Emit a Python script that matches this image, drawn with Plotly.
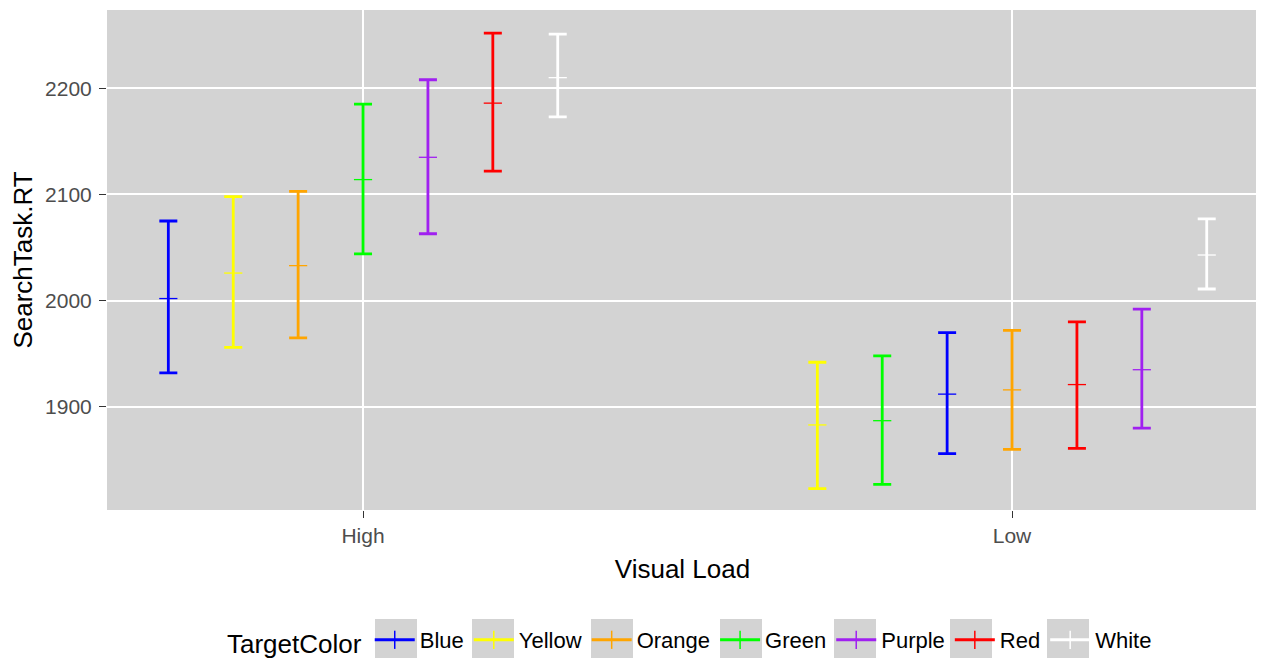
import plotly.graph_objects as go

loads = ["High", "Low"]
color_names = ["Blue", "Yellow", "Orange", "Green", "Purple", "Red", "White"]
line_colors = ["#0000FF", "#FFFF00", "#FFA500", "#00FF00", "#A020F0", "#FF0000", "#FFFFFF"]

high_mean = [2002, 2026, 2033, 2114, 2135, 2186, 2210]
high_upper = [2075, 2098, 2103, 2185, 2208, 2252, 2251]
high_lower = [1932, 1956, 1965, 2044, 2063, 2122, 2173]

low_mean = [1912, 1883, 1916, 1887, 1935, 1921, 2043]
low_upper = [1970, 1942, 1972, 1948, 1992, 1980, 2077]
low_lower = [1856, 1823, 1860, 1827, 1880, 1861, 2011]

y_ticks = [1900, 2000, 2100, 2200]

# dodge: within each load, bars ordered by mean, total dodge width 0.7
def dodge_offsets(means, width=0.7):
    n = len(means)
    order = sorted(range(n), key=lambda i: means[i])
    off = [0.0] * n
    for rank, i in enumerate(order):
        off[i] = (rank - (n - 1) / 2) * width / n
    return off

off_high = dodge_offsets(high_mean)
off_low = dodge_offsets(low_mean)

fig = go.Figure()
for i, name in enumerate(color_names):
    c = line_colors[i]
    means = [high_mean[i], low_mean[i]]
    ups = [high_upper[i] - high_mean[i], low_upper[i] - low_mean[i]]
    los = [high_mean[i] - high_lower[i], low_mean[i] - low_lower[i]]
    fig.add_trace(go.Scatter(
        x=[1 + off_high[i], 2 + off_low[i]], y=means, mode="markers",
        marker=dict(symbol="line-ew", size=13, color=c, line=dict(color=c, width=1.3)),
        error_y=dict(type="data", array=ups, arrayminus=los, symmetric=False,
                     color=c, thickness=2.8, width=9),
        showlegend=False, name=name,
    ))
# legend keys
for i, name in enumerate(color_names):
    c = line_colors[i]
    fig.add_trace(go.Scatter(
        x=[None], y=[None], mode="lines+markers", name=name,
        line=dict(color=c, width=3),
        marker=dict(symbol="line-ns", size=13, color=c, line=dict(color=c, width=1.5)),
    ))

# figure geometry in px (page body adds an 8px offset)
W, H = 1256, 650
L, R, T, B = 99, 6, 2, 148
pw, ph = W - L - R, H - T - B
def px_x(p):
    return (p - L) / pw
def px_y(p):
    return (H - B - p) / ph

key_centers = [388, 485, 604, 733, 847, 963, 1060]
shapes = []
for cx in key_centers:
    shapes.append(dict(type="rect", xref="paper", yref="paper",
                       x0=px_x(cx - 21), x1=px_x(cx + 21), y0=px_y(653), y1=px_y(611),
                       fillcolor="#D3D3D3", line=dict(width=0), layer="below"))

font_fam = "Liberation Sans, Arial, sans-serif"
fig.update_layout(
    width=W, height=H,
    margin=dict(l=L, r=R, t=T, b=B, autoexpand=False),
    paper_bgcolor="white", plot_bgcolor="#D3D3D3",
    font=dict(family=font_fam, color="#000000"),
    shapes=shapes,
    xaxis=dict(range=[0.6055, 2.379], tickvals=[1, 2], ticktext=loads,
               showgrid=True, gridcolor="white", gridwidth=1.5, zeroline=False,
               ticks="outside", ticklen=7, tickcolor="#333333", tickwidth=1.2,
               tickfont=dict(size=21, color="#4D4D4D", family=font_fam),
               automargin=False,
               title=dict(text="Visual Load", font=dict(size=26, color="#000000"), standoff=13)),
    yaxis=dict(range=[1802.9, 2273.7], tickvals=y_ticks,
               showgrid=True, gridcolor="white", gridwidth=1.5, zeroline=False,
               ticks="outside", ticklen=7, tickcolor="#333333", tickwidth=1.2,
               tickfont=dict(size=21, color="#4D4D4D", family=font_fam),
               automargin=False, ticklabelstandoff=3,
               title=dict(text="SearchTask.RT", font=dict(size=26, color="#000000"), standoff=5)),
    legend=dict(orientation="h", x=px_x(217), xanchor="left", y=px_y(633), yanchor="middle",
                title=dict(text="TargetColor", font=dict(size=26)),
                font=dict(size=22), itemwidth=40, itemclick=False, bgcolor="rgba(0,0,0,0)"),
)
fig.write_html("out.html")
